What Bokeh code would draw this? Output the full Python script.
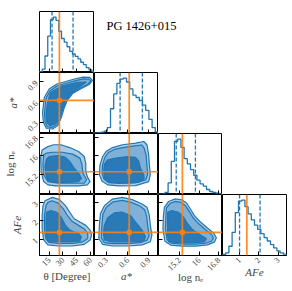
import math
import numpy as np
from bokeh.plotting import figure
from bokeh.models import Range1d, FixedTicker, Span, Label, GridBox
from bokeh.embed import file_html
from bokeh.resources import INLINE

# ---------------- data ----------------
title_text = "PG 1426+015"
axis_names = ["θ [Degree]", "a*", "log nₑ", "AFe"]
axis_styles = ["normal", "italic", "normal", "italic"]

theta_lim = [4.5, 64.5]
astar_lim = [0.134, 1.034]
logne_lim = [14.35, 16.95]
afe_lim = [0.1, 3.44]

theta_ticks = [15, 30, 45, 60]
astar_ticks = [0.3, 0.6, 0.9]
logne_ticks = [15.2, 16.0, 16.8]
afe_ticks = [1, 2, 3]

# 1D histograms (20 bins over the axis range)
theta_hist = [2, 10, 50, 110, 160, 168, 158, 125, 103, 92, 78, 64, 56, 49, 41, 31, 24, 15, 8, 3]
astar_hist = [1, 2, 4, 7, 18, 75, 120, 152, 165, 168, 156, 135, 116, 109, 100, 86, 70, 43, 18, 5]
logne_hist = [0, 1, 6, 35, 100, 160, 167, 142, 108, 92, 75, 58, 43, 32, 25, 15, 9, 6, 4, 2]
afe_hist = [3, 8, 28, 70, 130, 165, 168, 148, 126, 108, 92, 79, 66, 54, 44, 33, 23, 14, 8, 4]

# truths and 16/84 % quantiles
theta_truth, astar_truth, logne_truth, afe_truth = 26.2, 0.622, 15.32, 1.37
theta_q = [18.2, 41.1]
astar_q = [0.494, 0.807]
logne_q = [15.07, 15.85]
afe_q = [0.99, 2.06]

# 2D contours (three nested levels)
th_as_x1 = [7.8, 9.7, 15.0, 23.5, 33.1, 42.6, 52.1, 59.2, 62.3, 58.8, 50.2, 40.6, 35.0, 31.2, 28.3, 24.5, 18.8, 12.1, 8.8]
th_as_y1 = [0.44, 0.665, 0.79, 0.864, 0.901, 0.938, 0.967, 0.963, 0.916, 0.857, 0.798, 0.724, 0.628, 0.503, 0.37, 0.252, 0.20, 0.208, 0.296]
th_as_x2 = [10.0, 11.5, 16.0, 24.0, 33.5, 43.0, 52.0, 58.5, 60.5, 57.5, 49.5, 40.0, 34.0, 30.0, 27.0, 23.5, 18.5, 13.0, 10.5]
th_as_y2 = [0.44, 0.65, 0.765, 0.838, 0.875, 0.91, 0.94, 0.935, 0.905, 0.865, 0.81, 0.735, 0.635, 0.50, 0.37, 0.27, 0.225, 0.232, 0.31]
th_as_x3 = [12.5, 11.8, 13.0, 16.5, 29.0, 46.0, 55.5, 49.0, 38.5, 32.0, 28.0, 25.3, 21.5, 16.0]
th_as_y3 = [0.30, 0.42, 0.57, 0.74, 0.835, 0.89, 0.893, 0.832, 0.735, 0.60, 0.45, 0.34, 0.28, 0.25]

th_ne_x1 = [7.4, 5.7, 6.4, 9.0, 13.7, 21.6, 34.3, 47.1, 56.6, 59.7, 57.1, 55.0, 55.0, 53.3, 47.1, 37.5, 28.0, 20.0, 13.7]
th_ne_y1 = [16.25, 15.90, 15.33, 14.90, 14.76, 14.72, 14.72, 14.72, 14.76, 14.90, 15.07, 15.33, 15.68, 15.97, 16.18, 16.35, 16.47, 16.47, 16.39]
th_ne_x2 = [9.0, 8.3, 9.0, 13.7, 24.8, 40.7, 53.3, 55.9, 51.8, 50.9, 48.6, 40.7, 29.5, 18.5, 12.1]
th_ne_y2 = [16.04, 15.62, 15.19, 14.90, 14.83, 14.83, 14.83, 14.98, 15.26, 15.62, 15.90, 16.07, 16.15, 16.15, 16.11]
th_ne_x3 = [12.0, 15.3, 24.8, 32.8, 37.5, 42.3, 47.1, 50.2, 47.1, 34.3, 21.6, 13.7, 11.5, 10.5]
th_ne_y3 = [15.85, 15.97, 16.01, 15.93, 15.76, 15.47, 15.26, 15.04, 14.90, 14.87, 14.87, 14.93, 15.19, 15.54]

as_ne_x1 = [0.21, 0.249, 0.296, 0.387, 0.526, 0.712, 0.826, 0.872, 0.896, 0.905, 0.919, 0.896, 0.712, 0.48, 0.318, 0.238, 0.203]
as_ne_y1 = [15.59, 15.97, 16.18, 16.35, 16.47, 16.54, 16.61, 16.47, 16.04, 15.62, 15.19, 14.90, 14.73, 14.72, 14.76, 14.93, 15.19]
as_ne_x2 = [0.245, 0.28, 0.328, 0.411, 0.536, 0.702, 0.799, 0.833, 0.861, 0.871, 0.882, 0.854, 0.702, 0.48, 0.328, 0.266, 0.242]
as_ne_y2 = [15.59, 15.93, 16.14, 16.27, 16.35, 16.42, 16.46, 16.33, 16.01, 15.59, 15.2, 14.97, 14.84, 14.82, 14.86, 15.01, 15.24]
as_ne_x3 = [0.27, 0.318, 0.435, 0.595, 0.712, 0.757, 0.781, 0.827, 0.83, 0.757, 0.526, 0.342, 0.273, 0.265]
as_ne_y3 = [15.62, 15.83, 15.90, 15.97, 15.93, 15.76, 15.47, 15.19, 15.0, 14.87, 14.86, 14.87, 15.04, 15.33]

th_fe_x1 = [8.3, 10.5, 18.5, 26.4, 32.8, 37.5, 42.3, 48.6, 55.0, 59.7, 61.3, 59.7, 53.3, 40.7, 24.8, 13.7, 9.0, 7.4, 7.4]
th_fe_y1 = [2.83, 3.10, 3.28, 3.16, 2.83, 2.47, 2.11, 1.93, 1.75, 1.49, 1.22, 0.95, 0.71, 0.62, 0.62, 0.68, 0.95, 1.57, 2.29]
th_fe_x2 = [11.5, 13.7, 18.5, 24.8, 30.5, 35.0, 40.0, 47.1, 53.3, 57.1, 57.1, 51.8, 40.7, 24.8, 14.7, 11.2, 9.9, 9.9]
th_fe_y2 = [2.83, 3.01, 3.10, 2.97, 2.65, 2.29, 1.97, 1.75, 1.57, 1.30, 1.03, 0.85, 0.76, 0.76, 0.82, 1.03, 1.57, 2.29]
th_fe_x3 = [11.5, 12.1, 16.9, 23.3, 28.0, 32.8, 37.5, 47.1, 50.2, 48.6, 37.5, 21.6, 13.7, 11.8]
th_fe_y3 = [1.93, 2.47, 2.56, 2.47, 2.20, 1.75, 1.49, 1.30, 1.12, 0.90, 0.86, 0.86, 0.90, 1.22]

as_fe_x1 = [0.203, 0.217, 0.273, 0.387, 0.526, 0.664, 0.803, 0.872, 0.905, 0.919, 0.941, 0.919, 0.803, 0.619, 0.387, 0.249, 0.194]
as_fe_y1 = [1.75, 2.38, 2.83, 3.19, 3.28, 3.16, 2.92, 2.74, 2.29, 1.75, 1.22, 0.85, 0.68, 0.62, 0.62, 0.71, 1.03]
as_fe_x2 = [0.238, 0.252, 0.30, 0.397, 0.526, 0.653, 0.778, 0.84, 0.868, 0.882, 0.903, 0.875, 0.778, 0.605, 0.387, 0.272, 0.228]
as_fe_y2 = [1.75, 2.36, 2.74, 3.04, 3.12, 3.01, 2.80, 2.61, 2.23, 1.72, 1.20, 0.94, 0.80, 0.75, 0.75, 0.80, 1.07]
as_fe_x3 = [0.26, 0.273, 0.318, 0.411, 0.526, 0.642, 0.712, 0.803, 0.85, 0.827, 0.619, 0.387, 0.273]
as_fe_y3 = [1.30, 1.75, 2.15, 2.43, 2.47, 2.29, 1.93, 1.49, 1.12, 0.89, 0.84, 0.84, 0.95]

ne_fe_x1 = [14.59, 14.76, 15.03, 15.30, 15.50, 15.65, 15.81, 16.03, 16.34, 16.60, 16.70, 16.62, 16.34, 15.85, 15.30, 14.84, 14.61, 14.53, 14.55]
ne_fe_y1 = [2.74, 3.06, 3.20, 3.15, 2.96, 2.63, 2.28, 1.96, 1.61, 1.31, 1.07, 0.83, 0.68, 0.61, 0.61, 0.67, 0.88, 1.56, 2.28]
ne_fe_x2 = [14.67, 14.82, 15.04, 15.26, 15.45, 15.59, 15.75, 15.97, 16.28, 16.52, 16.58, 16.50, 16.26, 15.85, 15.30, 14.88, 14.70, 14.63, 14.65]
ne_fe_y2 = [2.69, 2.96, 3.06, 3.01, 2.82, 2.53, 2.18, 1.85, 1.50, 1.23, 1.04, 0.88, 0.77, 0.72, 0.72, 0.77, 0.96, 1.56, 2.26]
ne_fe_x3 = [14.72, 14.89, 15.16, 15.37, 15.53, 15.75, 16.06, 16.30, 16.22, 15.73, 15.16, 14.76, 14.72, 14.72]
ne_fe_y3 = [2.47, 2.56, 2.47, 2.20, 1.84, 1.49, 1.22, 1.02, 0.85, 0.80, 0.80, 0.85, 1.22, 1.93]

# ---------------- styling / layout ----------------
BLUE = "#1f77b4"
FILLS = ["#a9cbe7", "#7eb0d8", "#2a7ab7"]
ORANGE = "#ff7f0e"
SERIF = "Liberation Serif"
FW, FH = 64, 61
LB, RB, TB, BB = 30, 4, 11, 35
XSTAND = [-2, -3, -5, -3]  # x-axis label standoffs per column
YSTAND = 3                 # y-axis label standoff

lims = [theta_lim, astar_lim, logne_lim, afe_lim]
ticks = [theta_ticks, astar_ticks, logne_ticks, afe_ticks]
hists = [theta_hist, astar_hist, logne_hist, afe_hist]
truths = [theta_truth, astar_truth, logne_truth, afe_truth]
quants = [theta_q, astar_q, logne_q, afe_q]
contours = {
    (1, 0): [(th_as_x1, th_as_y1), (th_as_x2, th_as_y2), (th_as_x3, th_as_y3)],
    (2, 0): [(th_ne_x1, th_ne_y1), (th_ne_x2, th_ne_y2), (th_ne_x3, th_ne_y3)],
    (2, 1): [(as_ne_x1, as_ne_y1), (as_ne_x2, as_ne_y2), (as_ne_x3, as_ne_y3)],
    (3, 0): [(th_fe_x1, th_fe_y1), (th_fe_x2, th_fe_y2), (th_fe_x3, th_fe_y3)],
    (3, 1): [(as_fe_x1, as_fe_y1), (as_fe_x2, as_fe_y2), (as_fe_x3, as_fe_y3)],
    (3, 2): [(ne_fe_x1, ne_fe_y1), (ne_fe_x2, ne_fe_y2), (ne_fe_x3, ne_fe_y3)],
}


def style_axis(ax, i, show, standoff=0):
    ax.ticker = FixedTicker(ticks=ticks[i], minor_ticks=[])
    ax.major_tick_in = 4
    ax.major_tick_out = 0
    ax.minor_tick_in = 0
    ax.minor_tick_out = 0
    ax.major_tick_line_color = "black"
    ax.axis_line_color = "black"
    ax.axis_line_width = 1
    if show:
        ax.major_label_text_font = SERIF
        ax.major_label_text_font_size = "8.5px"
        ax.major_label_orientation = math.pi / 4
        ax.major_label_standoff = 3
        ax.axis_label = axis_names[i]
        ax.axis_label_text_font = SERIF
        ax.axis_label_text_font_size = "11px"
        ax.axis_label_text_font_style = axis_styles[i]
        ax.axis_label_standoff = standoff
    else:
        ax.major_label_overrides = {t: "" for t in ticks[i]}
        ax.major_label_text_font_size = "0px"
        ax.major_label_standoff = 0


children = []
for r in range(4):
    for c in range(r + 1):
        lb = LB if c == 0 else 0
        rb = RB if c == 3 else 0
        tb = TB if r == 0 else 0
        bb = BB if r == 3 else 0
        diag = (r == c)
        yr = Range1d(0, 1.1 * max(hists[c])) if diag else Range1d(*lims[r])
        p = figure(width=FW + lb + rb, height=FH + tb + bb,
                   x_range=Range1d(*lims[c]), y_range=yr,
                   y_axis_type=None if diag else "linear",
                   toolbar_location=None, output_backend="svg",
                   min_border=0, min_border_left=lb, min_border_right=rb,
                   min_border_top=tb, min_border_bottom=bb,
                   background_fill_color="white", border_fill_color="white",
                   outline_line_color="black", outline_line_width=1)
        p.grid.visible = False
        style_axis(p.xaxis[0], c, r == 3, XSTAND[c])
        if not diag:
            style_axis(p.yaxis[0], r, c == 0, YSTAND)
        if diag:
            counts = np.array(hists[c], dtype=float)
            edges = np.linspace(lims[c][0], lims[c][1], len(counts) + 1)
            xs = np.concatenate([[edges[0]], np.repeat(edges, 2)[1:-1], [edges[-1]]])
            ys = np.concatenate([[0.0], np.repeat(counts, 2), [0.0]])
            p.line(xs, ys, line_color=BLUE, line_width=1.3)
            for q in quants[c]:
                p.add_layout(Span(location=q, dimension="height", line_color=BLUE,
                                  line_width=1.3, line_dash="4 2"))
            p.add_layout(Span(location=truths[c], dimension="height",
                              line_color=ORANGE, line_width=1.7, line_alpha=0.9))
        else:
            for k, (cx, cy) in enumerate(contours[(r, c)]):
                p.patch(cx, cy, fill_color=FILLS[k], fill_alpha=1.0,
                        line_color=BLUE, line_width=1.2)
            p.add_layout(Span(location=truths[c], dimension="height",
                              line_color=ORANGE, line_width=1.7, line_alpha=0.9))
            p.add_layout(Span(location=truths[r], dimension="width",
                              line_color=ORANGE, line_width=1.7, line_alpha=0.9))
            p.scatter([truths[c]], [truths[r]], marker="square", size=4,
                      color=ORANGE)
        children.append((p, r, c))

# ---------- title ----------
tp = figure(width=3 * FW + RB, height=FH + TB, x_range=Range1d(0, 1), y_range=Range1d(0, 1),
            x_axis_type=None, y_axis_type=None, toolbar_location=None,
            output_backend="svg", min_border=0, outline_line_color=None,
            background_fill_color="white", border_fill_color="white")
tp.grid.visible = False
tp.add_layout(Label(x=12, y=FH + TB - 25, x_units="screen", y_units="screen",
                    text=title_text, text_font=SERIF, text_font_size="12.5px",
                    text_baseline="alphabetic", text_color="black"))
children.append((tp, 0, 1, 1, 3))

grid = GridBox(children=children, spacing=0)
open("out.html", "w").write(file_html(grid, INLINE))
